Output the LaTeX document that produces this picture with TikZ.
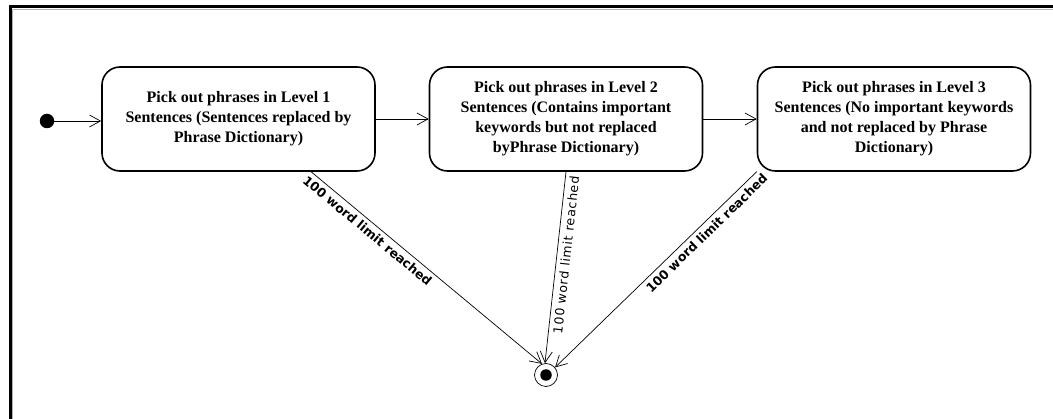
\documentclass[tikz,border=0pt]{standalone}
\usepackage{fontspec}
\setmainfont{Liberation Serif}
\newfontfamily\lblfont{DejaVu Sans}
\usetikzlibrary{arrows.meta}
\begin{document}
\begin{tikzpicture}[x=1pt,y=-1pt,
  state/.style={draw, line width=1.6pt, rounded corners=18pt,
    minimum width=273pt, minimum height=104pt, align=center, inner sep=0pt,
    font=\fontsize{16}{20}\selectfont\bfseries},
  flow/.style={draw, line width=0.7pt, -{Straight Barb[length=11pt,width=12pt]}},
  guard/.style={sloped, below=3pt, inner sep=1pt,
    font=\lblfont\fontsize{12.5}{14}\selectfont\bfseries},
  guardthin/.style={sloped, below=3pt, inner sep=1pt,
    font=\lblfont\fontsize{12.5}{14}\selectfont\addfontfeature{LetterSpace=6}},
]
\useasboundingbox (0,0) rectangle (1053,419);
\fill[white] (0,0) rectangle (1053,419);
% frame
\draw[line width=3pt] (10.5,419) -- (10.5,7) -- (1053,7);
\draw[gray!60, line width=0.8pt] (12.8,419) -- (12.8,9.3) -- (1053,9.3);

% states
\node[circle, fill, minimum size=14.5pt, inner sep=0pt] (init) at (47,121) {};
\node[state] (b1) at (238.5,119) {Pick out phrases in Level 1\\Sentences (Sentences replaced by\\Phrase Dictionary)};
\node[state] (b2) at (566,119) {Pick out phrases in Level 2\\Sentences (Contains important\\keywords but not replaced\\byPhrase Dictionary)};
\node[state] (b3) at (894,119) {Pick out phrases in Level 3\\Sentences (No important keywords\\and not replaced by Phrase\\Dictionary)};
\node[circle, draw, line width=0.7pt, minimum size=23pt, inner sep=0pt] (fin) at (546,375) {};
\node[circle, fill, minimum size=11.5pt, inner sep=0pt] (findot) at (fin.center) {};

% transitions
\draw[flow] (init) -- (init -| b1.west);
\draw[flow] (b1) -- (b2);
\draw[flow] (b2) -- (b3);
\draw[flow] (b1.-36.8) -- (fin.110) node[guard, pos=0.27] {100 word limit reached};
\draw[flow] (b2.south) -- (fin.95) node[guardthin, pos=0.43] {100 word limit reached};
\draw[flow] (b3.-159.3) -- (fin.40) node[guard, pos=0.28] {100 word limit reached};
\end{tikzpicture}
\end{document}
